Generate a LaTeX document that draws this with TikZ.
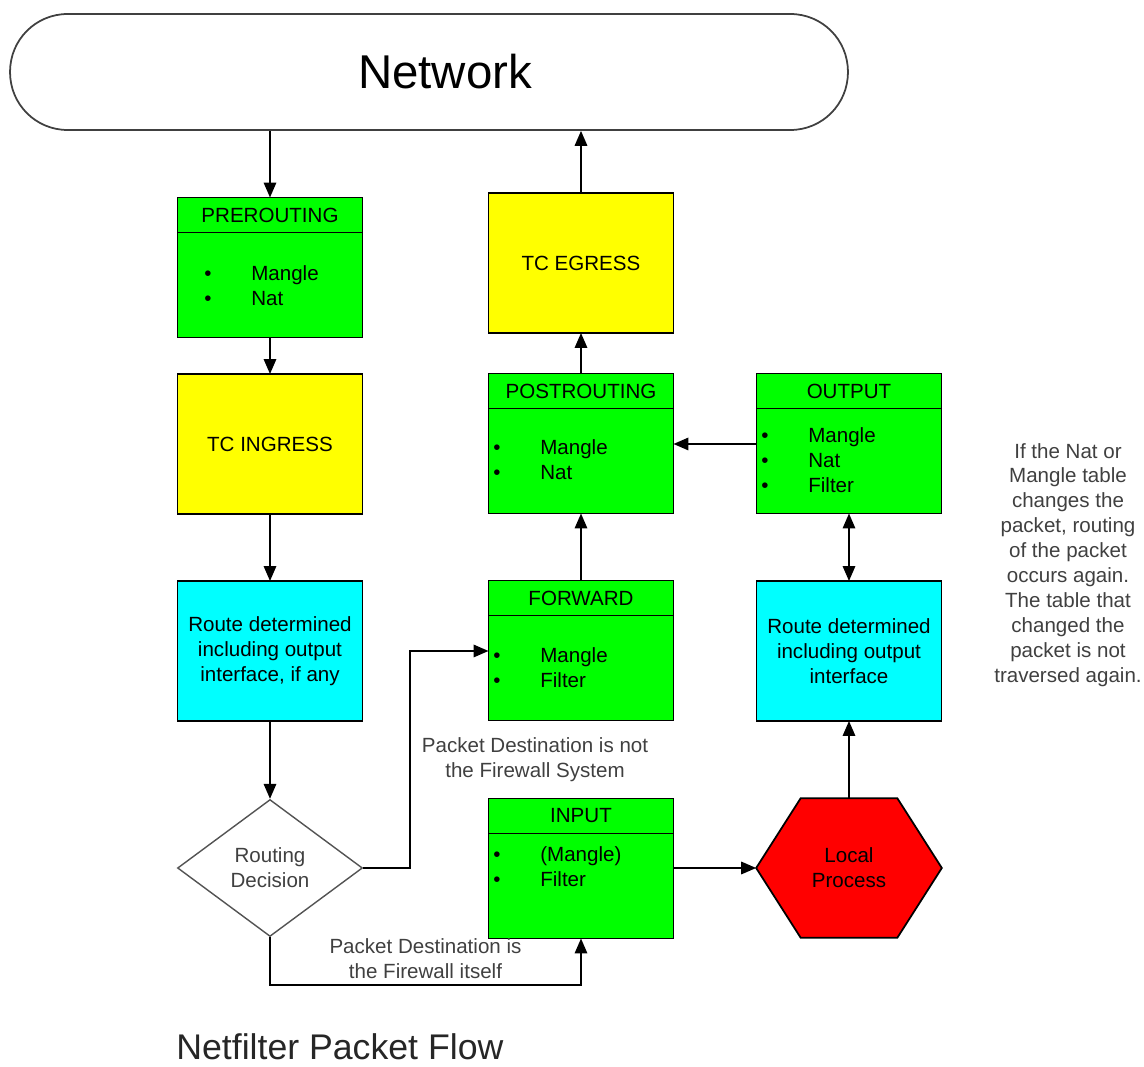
\documentclass[tikz,border=0pt]{standalone}
\usepackage{fontspec}
\setmainfont{Liberation Sans}
\usetikzlibrary{arrows.meta,positioning,shapes.geometric,calc,backgrounds}

\definecolor{nfgreen}{HTML}{00FF00}
\definecolor{nfyellow}{HTML}{FFFF00}
\definecolor{nfcyan}{HTML}{00FFFF}
\definecolor{nfred}{HTML}{FF0000}
\definecolor{nfgray}{HTML}{404040}

\newcommand{\itm}[1]{\makebox[0.94cm][l]{\textbullet}#1}

\begin{document}
\begin{tikzpicture}[x=0.02cm, y=-0.02cm,
  font=\fontsize{11.7}{14.2}\selectfont,
  head/.style={draw, fill=nfgreen, line width=1pt, outer sep=0pt, inner sep=0pt,
               minimum width=3.7cm, minimum height=0.7cm},
  body/.style={draw, fill=nfgreen, line width=1pt, outer sep=0pt, inner sep=0pt,
               minimum width=3.7cm, minimum height=2.1cm},
  stage/.style={draw, line width=1pt, outer sep=0pt, inner sep=0pt, align=center,
                minimum width=3.7cm, minimum height=2.8cm},
  items/.style={anchor=west, align=left, inner sep=0pt},
  lab/.style={text=nfgray, align=center, inner sep=0pt},
  arr/.style={-{Triangle[length=0.3cm, width=0.25cm]}, line width=1pt},
  dbl/.style={{Triangle[length=0.3cm, width=0.25cm]}-{Triangle[length=0.3cm, width=0.25cm]}, line width=1pt}
]
\useasboundingbox (0,0) rectangle (1144,1067);

% network cloud on top
\node[draw=nfgray, line width=1pt, rounded corners=1.15cm, minimum width=16.76cm,
      minimum height=2.32cm, font=\fontsize{27}{30}\selectfont] (net) at (429,72)
  {\hspace{0.64cm}Network};

% left column
\node[head] (preH) at (270,215) {PREROUTING};
\node[body, below=0pt of preH] (pre) {};
\node[items] (preL) at (204,286) {\itm{Mangle}\\\itm{Nat}};
\node[stage, fill=nfyellow] (ing) at (270,444) {TC INGRESS};
\node[stage, fill=nfcyan] (rt1) at (270,651)
  {Route determined\\including output\\interface, if any};
\node[diamond, draw=nfgray!90, line width=0.8pt, minimum width=3.7cm,
      minimum height=2.74cm, inner sep=0pt, align=center, text=nfgray] (dec)
  at (270,868) {Routing\\Decision};

% middle column
\node[stage, fill=nfyellow] (egr) at (581,263) {TC EGRESS};
\node[head] (postH) at (581,391) {POSTROUTING};
\node[body, below=0pt of postH] (post) {};
\node[items] (postL) at (493,460) {\itm{Mangle}\\\itm{Nat}};
\node[head] (fwdH) at (581,598) {FORWARD};
\node[body, below=0pt of fwdH] (fwd) {};
\node[items] (fwdL) at (493,668) {\itm{Mangle}\\\itm{Filter}};
\node[head] (inpH) at (581,816) {INPUT};
\node[body, below=0pt of inpH] (inp) {};
\node[items] (inpL) at (493,867) {\itm{(Mangle)}\\\itm{Filter}};

% right column
\node[head] (outH) at (849,391) {OUTPUT};
\node[body, below=0pt of outH] (out) {};
\node[items] (outL) at (761,460) {\itm{Mangle}\\\itm{Nat}\\\itm{Filter}};
\node[stage, fill=nfcyan] (rt2) at (849,651)
  {Route determined\\including output\\interface};
\node[inner sep=0pt, minimum width=3.7cm, minimum height=2.78cm, align=center]
  (loc) at (849,868) {Local\\Process};
\begin{scope}[on background layer]
  \draw[fill=nfred, line width=1pt] (loc.west)
    -- ($(loc.north west)!0.24!(loc.north east)$)
    -- ($(loc.north west)!0.76!(loc.north east)$) -- (loc.east)
    -- ($(loc.south west)!0.76!(loc.south east)$)
    -- ($(loc.south west)!0.24!(loc.south east)$) -- cycle;
\end{scope}

% notes
\node[lab] (notfw) at (535,760) {Packet Destination is not\\the Firewall System};
\node[lab] (note) at (1068,565) {If the Nat or\\Mangle table\\changes the\\packet, routing\\of the packet\\occurs again.\\The table that\\changed the\\packet is not\\traversed again.};
\node[anchor=west, inner sep=0pt, text=black!85, font=\fontsize{20.3}{24}\selectfont]
  (title) at (176,1047) {Netfilter Packet Flow};

% packet flow
\draw[arr] (preH.north |- net.south) -- (preH.north);
\draw[arr] (pre.south) -- (ing.north);
\draw[arr] (ing.south) -- (rt1.north);
\draw[arr] (rt1.south) -- (dec.north);
\draw[arr] (dec.east) -- ++(47,0) |- ([yshift=0.34cm]fwd.west);
\draw[arr] (dec.south) -- ++(0,48) -| node[lab, pos=0.25, above=0.12cm]
  {Packet Destination is\\the Firewall itself} (inp.south);
\draw[arr] (inp.east |- loc.west) -- (loc.west);
\draw[arr] (loc.north) -- (rt2.south);
\draw[dbl] (out.south) -- (rt2.north);
\draw[arr] ([yshift=0.34cm]out.west) -- ([yshift=0.34cm]post.east);
\draw[arr] (fwdH.north) -- (post.south);
\draw[arr] (postH.north) -- (egr.south);
\draw[arr] (egr.north) -- (egr.north |- net.south);
\end{tikzpicture}
\end{document}
